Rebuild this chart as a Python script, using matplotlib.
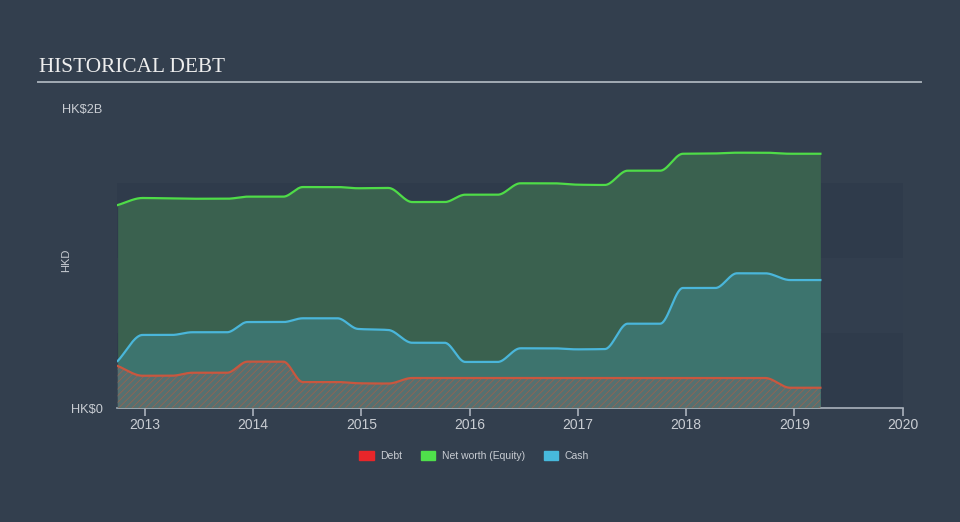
import numpy as np
import matplotlib
matplotlib.use("Agg")
import matplotlib.pyplot as plt
from matplotlib.patches import Patch
from matplotlib.lines import Line2D

# dates of the reports (decimal years) and values in HK$ billions
dates = [2012.75, 2012.98, 2013.25, 2013.44, 2013.76, 2013.95, 2014.28, 2014.46,
         2014.78, 2014.97, 2015.25, 2015.47, 2015.77, 2015.96, 2016.26, 2016.47,
         2016.77, 2016.99, 2017.25, 2017.46, 2017.76, 2017.97, 2018.27, 2018.47,
         2018.73, 2018.96, 2019.24]
equity = [1.353, 1.400, 1.397, 1.395, 1.395, 1.409, 1.409, 1.473,
          1.473, 1.465, 1.467, 1.373, 1.373, 1.422, 1.422, 1.498,
          1.498, 1.489, 1.487, 1.582, 1.582, 1.695, 1.697, 1.702,
          1.702, 1.695, 1.695]
cash = [0.313, 0.487, 0.487, 0.505, 0.505, 0.573, 0.573, 0.598,
        0.598, 0.527, 0.520, 0.435, 0.435, 0.307, 0.307, 0.398,
        0.398, 0.391, 0.393, 0.562, 0.562, 0.800, 0.800, 0.898,
        0.898, 0.853, 0.853]
debt = [0.280, 0.215, 0.215, 0.235, 0.235, 0.309, 0.309, 0.173,
        0.173, 0.165, 0.163, 0.200, 0.200, 0.200, 0.200, 0.200,
        0.200, 0.200, 0.200, 0.200, 0.200, 0.200, 0.200, 0.200,
        0.200, 0.135, 0.135]
years = [2013, 2014, 2015, 2016, 2017, 2018, 2019, 2020]
ylabels = ["HK$0", "HK$2B"]

BG = "#333f4e"
TXT = "#c9cdd3"


def monotone(xs, ys, per=30):
    # monotone cubic curve for drawing (like d3 curveMonotoneX)
    xs = np.asarray(xs, float)
    ys = np.asarray(ys, float)
    h = np.diff(xs)
    d = np.diff(ys) / h
    m = np.zeros_like(ys)
    m[0] = d[0]
    m[-1] = d[-1]
    for i in range(1, len(ys) - 1):
        if d[i - 1] * d[i] <= 0:
            m[i] = 0.0
        else:
            p = (d[i - 1] * h[i] + d[i] * h[i - 1]) / (h[i - 1] + h[i])
            m[i] = np.sign(d[i]) * min(abs(d[i - 1]), abs(d[i]), 0.5 * abs(p)) * 2
    outx, outy = [], []
    for i in range(len(h)):
        t = np.linspace(0, 1, per, endpoint=False)
        h00 = 2 * t**3 - 3 * t**2 + 1
        h10 = t**3 - 2 * t**2 + t
        h01 = -2 * t**3 + 3 * t**2
        h11 = t**3 - t**2
        outx.append(xs[i] + t * h[i])
        outy.append(h00 * ys[i] + h10 * h[i] * m[i] + h01 * ys[i + 1] + h11 * h[i] * m[i + 1])
    outx.append([xs[-1]])
    outy.append([ys[-1]])
    return np.concatenate(outx), np.concatenate(outy)


plt.rcParams['hatch.linewidth'] = 0.6
fig = plt.figure(figsize=(9.6, 5.22), dpi=100, facecolor=BG)
ax = fig.add_axes([117 / 960, 1 - 408 / 522, (902.7 - 117) / 960, 300 / 522])
ax.set_facecolor(BG)
ax.set_xlim(2012.744, 2020.0)
ax.set_ylim(0, 2.0)

# background bands
ax.axhspan(0, 0.5, color="#2f3b4b", lw=0, zorder=0)
ax.axhspan(0.5, 1.0, color="#323e4e", lw=0, zorder=0)
ax.axhspan(1.0, 1.5, color="#2f3b4b", lw=0, zorder=0)

ex, ey = monotone(dates, equity)
cx, cy = monotone(dates, cash)
dx, dy = monotone(dates, debt)

ax.fill_between(ex, 0, ey, color="#3a614f", lw=0, zorder=1)
ax.fill_between(cx, 0, cy, color="#3d746e", lw=0, zorder=2)
ax.fill_between(dx, 0, dy, facecolor="#567070", edgecolor="#946452", hatch="/////", lw=0, zorder=3)
ax.plot(ex, ey, color="#4fdc48", lw=1.6, zorder=5)
ax.plot(cx, cy, color="#4ab6da", lw=1.6, zorder=5)
ax.plot(dx, dy, color="#c9573f", lw=1.6, zorder=5)

for s in ["top", "right", "left"]:
    ax.spines[s].set_visible(False)
ax.spines["bottom"].set_color("#aab2bc")
ax.spines["bottom"].set_linewidth(1.2)
ax.set_xticks(years)
ax.set_xticklabels([str(y) for y in years])
ax.tick_params(axis="x", colors="#aab2bc", length=6, width=1.2, labelcolor=TXT,
               labelsize=10, pad=1)
ax.set_yticks([0, 2.0])
ax.set_yticklabels(ylabels)
ax.tick_params(axis="y", length=0, labelcolor=TXT, labelsize=9.2, pad=10.5)
for lab in ax.get_xticklabels() + ax.get_yticklabels():
    lab.set_family("Liberation Sans")

fig.text(39 / 960, 1 - 67 / 522, "HISTORICAL DEBT", family="Liberation Serif",
         size=15.3, color="#eeeeee", va="center", ha="left")
fig.add_artist(Line2D([38 / 960, 921 / 960], [1 - 82 / 522, 1 - 82 / 522],
                      color="#a3abb4", lw=1.4, transform=fig.transFigure))
fig.text(66 / 960, 1 - 260 / 522, "HKD", rotation=90, size=8, color=TXT,
         va="center", ha="center", family="Liberation Sans")

handles = [Patch(color="#e8262a", label="Debt"),
           Patch(color="#4fe04b", label="Net worth (Equity)"),
           Patch(color="#47b9dc", label="Cash")]
leg = fig.legend(handles=handles, loc="center", bbox_to_anchor=(474 / 960, 1 - 456 / 522),
                 ncol=3, frameon=False, fontsize=7.5, handlelength=1.4, handleheight=0.9,
                 columnspacing=1.8, handletextpad=0.6)
for t in leg.get_texts():
    t.set_color(TXT)
    t.set_family("Liberation Sans")

fig.savefig("out.png", dpi=100, facecolor=BG)
